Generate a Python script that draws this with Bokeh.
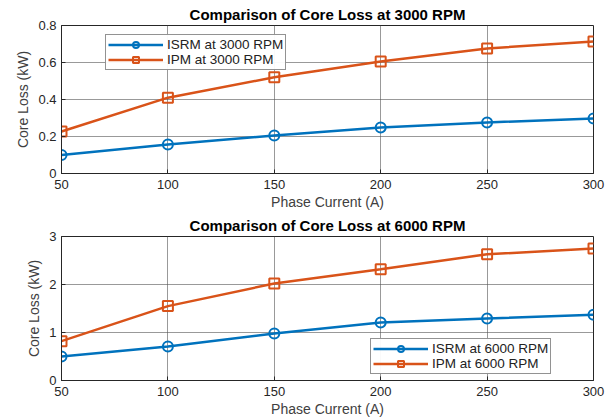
from bokeh.plotting import figure
from bokeh.layouts import column
from bokeh.models import Range1d, FixedTicker, Legend, LegendItem
from bokeh.embed import file_html
from bokeh.resources import INLINE

current = [50, 100, 150, 200, 250, 300]
isrm_3000 = [0.10, 0.157, 0.205, 0.249, 0.276, 0.297]
ipm_3000 = [0.227, 0.41, 0.52, 0.605, 0.676, 0.714]
isrm_6000 = [0.50, 0.71, 0.98, 1.21, 1.29, 1.37]
ipm_6000 = [0.82, 1.55, 2.02, 2.32, 2.63, 2.75]

BLUE = "#0072BD"
ORANGE = "#D95319"
FONT = "Liberation Sans"


def make(title, isrm, ipm, ymax, yticks, labels, height, top, bottom):
    p = figure(width=613, height=height, output_backend="svg", toolbar_location=None,
               x_range=Range1d(50, 300), y_range=Range1d(0, ymax),
               min_border_left=61, min_border_right=20,
               min_border_top=top, min_border_bottom=bottom)
    p.title.text = title
    p.title.align = "center"
    p.title.text_font = FONT
    p.title.text_font_size = "15px"
    p.title.text_font_style = "bold"
    p.title.text_color = "black"
    p.title.standoff = 5
    p.xaxis.ticker = FixedTicker(ticks=current)
    p.yaxis.ticker = FixedTicker(ticks=yticks)
    p.xaxis.axis_label = "Phase Current (A)"
    p.yaxis.axis_label = "Core Loss (kW)"
    for ax in (p.xaxis[0], p.yaxis[0]):
        ax.axis_label_text_font = FONT
        ax.axis_label_text_font_size = "14px"
        ax.axis_label_text_font_style = "normal"
        ax.axis_label_text_color = "#404040"
        ax.major_label_text_font = FONT
        ax.major_label_text_font_size = "13px"
        ax.major_label_text_color = "#262626"
        ax.axis_line_color = "#262626"
        ax.major_tick_line_color = "#262626"
        ax.major_tick_in = 4
        ax.major_tick_out = 0
        ax.minor_tick_line_color = None
    p.xaxis.axis_label_standoff = 2
    p.yaxis.axis_label_standoff = 4
    p.xaxis.major_label_standoff = 6
    p.yaxis.major_label_standoff = 5
    p.grid.grid_line_color = "#555555"
    p.grid.grid_line_alpha = 0.6
    p.grid.grid_line_width = 1
    p.outline_line_color = "#262626"
    p.outline_line_alpha = 1

    l1 = p.line(current, isrm, line_color=BLUE, line_width=2.5)
    m1 = p.scatter(current, isrm, marker="circle", size=10, line_color=BLUE,
                   line_width=2, fill_color=None)
    l2 = p.line(current, ipm, line_color=ORANGE, line_width=2.5)
    m2 = p.scatter(current, ipm, marker="square", size=10, line_color=ORANGE,
                   line_width=2, fill_color=None)
    legend = Legend(items=[LegendItem(label=labels[0], renderers=[l1, m1]),
                           LegendItem(label=labels[1], renderers=[l2, m2])])
    legend.label_text_font = FONT
    legend.label_text_font_size = "13.5px"
    legend.label_text_color = "#222222"
    legend.border_line_color = "#262626"
    legend.border_line_width = 1
    legend.glyph_width = 55
    legend.glyph_height = 15
    legend.label_height = 15
    legend.spacing = 0
    legend.padding = 2
    legend.margin = 0
    legend.label_standoff = 4
    p.add_layout(legend)
    return p


p1 = make("Comparison of Core Loss at 3000 RPM", isrm_3000, ipm_3000, 0.8,
          [0, 0.2, 0.4, 0.6, 0.8], ["ISRM at 3000 RPM", "IPM at 3000 RPM"],
          212, 25, 0)
p2 = make("Comparison of Core Loss at 6000 RPM", isrm_6000, ipm_6000, 3,
          [0, 1, 2, 3], ["ISRM at 6000 RPM", "IPM at 6000 RPM"],
          207, 21, 0)
p1.legend[0].location = (44, 103)
p2.legend[0].location = (309, 6)
layout = column(p1, p2, spacing=0)

open("out.html", "w").write(file_html(layout, INLINE))
